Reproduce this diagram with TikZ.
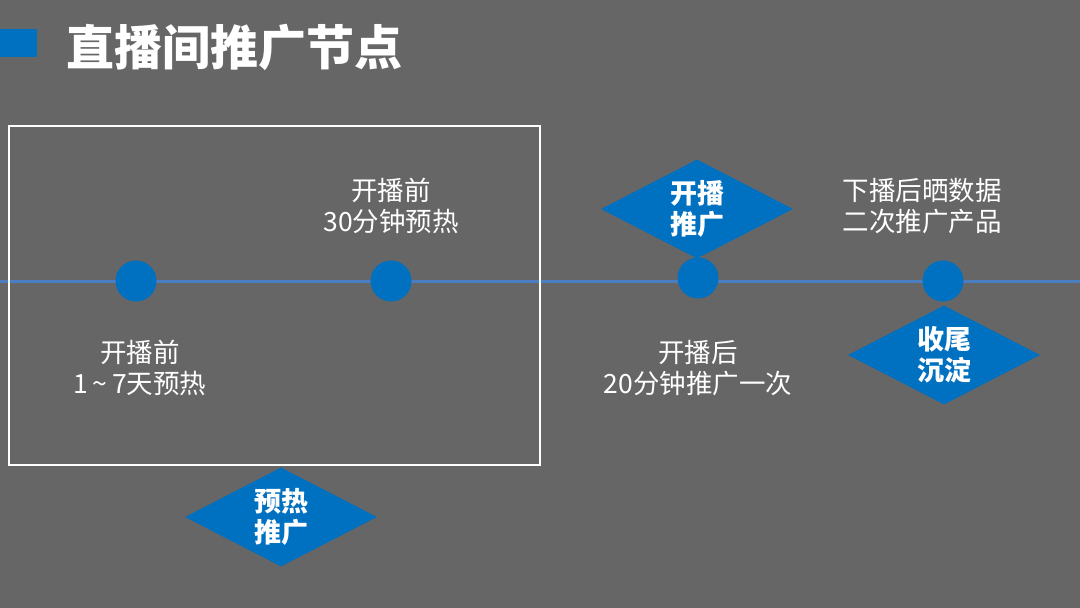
\documentclass[tikz,border=0pt]{standalone}
\usepackage{fontspec}
\setmainfont{Noto Sans CJK SC}
\usetikzlibrary{shapes.geometric}
\definecolor{bg}{HTML}{666666}
\definecolor{mblue}{HTML}{0070C0}
\definecolor{lblue}{HTML}{4A7EC0}
\begin{document}
\begin{tikzpicture}[x=1pt,y=-1pt,
  dot/.style={circle,fill=mblue,minimum size=41pt,inner sep=0pt},
  dia/.style={diamond,fill=mblue,minimum width=192pt,minimum height=99pt,inner sep=0pt},
  diatext/.style={text=white,align=center,font=\fontsize{27}{31}\selectfont\bfseries},
  lbl/.style={text=white,align=center,font=\fontsize{26.5}{31}\selectfont},
]
\useasboundingbox[fill=bg] (0,0) rectangle (1080,608);
% title
\fill[mblue] (0,29) rectangle (37,57);
\node[text=white,font=\fontsize{48}{52}\selectfont\bfseries,anchor=west,inner sep=0pt] (title) at (66,47) {直播间推广节点};
% timeline
\coordinate (L) at (0,281);
\coordinate (R) at (1080,281);
\draw[lblue,line width=3pt] (L) -- (R);
% box
\draw[white,line width=2.5pt] (9,126) rectangle (540,465);
% dots
\node[dot] (c1) at (136,281) {};
\node[dot] (c2) at (391,281) {};
\node[dot] (c3) at (698,278) {};
\node[dot] (c4) at (943,281) {};
% diamonds
\node[dia] (d1) at (697,209) {};
\node[diatext] at (d1) {开播\\推广};
\node[dia] (d2) at (944,355) {};
\node[diatext] at (d2) {收尾\\沉淀};
\node[dia] (d3) at (281,517) {};
\node[diatext] at (d3) {预热\\推广};
% labels
\node[lbl] (t1) at (391,206) {开播前\\30分钟预热};
\node[lbl] (t2) at (140,368) {开播前\\1\,\textasciitilde\,7天预热};
\node[lbl] (t3) at (698,368) {开播后\\20分钟推广一次};
\node[lbl] (t4) at (922,206) {下播后晒数据\\二次推广产品};
\end{tikzpicture}
\end{document}
